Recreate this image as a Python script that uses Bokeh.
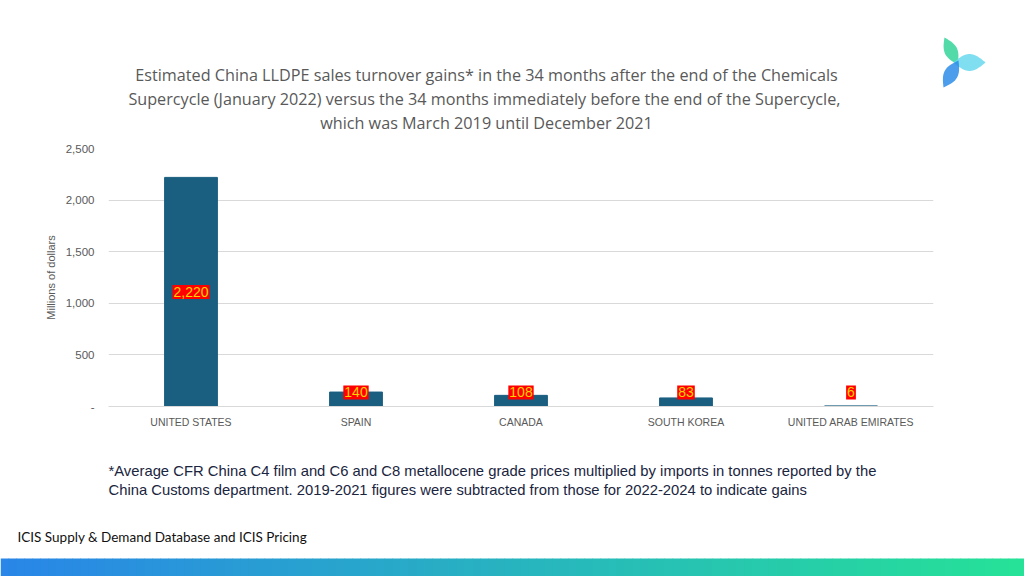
import numpy as np
from bokeh.plotting import figure
from bokeh.layouts import column
from bokeh.models import (ColumnDataSource, NumeralTickFormatter,
                          FixedTicker, Range1d)
from bokeh.core.properties import value
from bokeh.embed import file_html
from bokeh.resources import INLINE

# ---- data ----
categories = ["UNITED STATES", "SPAIN", "CANADA", "SOUTH KOREA", "UNITED ARAB EMIRATES"]
values = [2220, 140, 108, 83, 6]
y_ticks = [0, 500, 1000, 1500, 2000, 2500]

title_lines = [
    "Estimated China LLDPE sales turnover gains* in the 34 months after the end of the Chemicals",
    "Supercycle (January 2022) versus the 34 months immediately before the end of the  Supercycle,",
    "which was March 2019 until December 2021",
]
footnote_lines = [
    "*Average CFR China C4 film and C6 and C8 metallocene grade prices multiplied by imports in tonnes reported by the",
    "China Customs department. 2019-2021 figures were subtracted from those for 2022-2024 to indicate gains",
]
source_text = "ICIS Supply & Demand Database and ICIS Pricing"

# ---- layout constants (canvas px) ----
W, H = 1024, 576
TOP_H = 140          # header strip
MAIN_BOTTOM = 445    # main chart strip ends here
FL, FR, FT, FB = 108, 933, 148, 406
GRAY = "#595959"


def blank(height, y0):
    f = figure(width=W, height=height, x_range=Range1d(0, W),
               y_range=Range1d(y0 + height, y0), x_axis_type=None, y_axis_type=None,
               output_backend="svg", toolbar_location=None, min_border=0,
               frame_align=False)
    f.outline_line_color = None
    f.grid.visible = False
    f.background_fill_color = "white"
    f.border_fill_color = "white"
    return f


# ---------- header ----------
top = blank(TOP_H, 0)
top.text(x=[486] * 3, y=[74, 98, 122], text=title_lines, text_align="center",
         text_baseline="middle", text_font=value("Open Sans"), text_font_size="16.2px",
         text_color=GRAY)


def leaf(a, b, w, m=24):
    a = np.array(a, float)
    b = np.array(b, float)
    d = b - a
    L = np.hypot(*d)
    nrm = np.array([-d[1], d[0]]) / L
    t = np.linspace(0, 1, m)
    off = (w / 2) * np.sin(np.pi * t)
    side1 = a + np.outer(t, d) + np.outer(off, nrm)
    side2 = a + np.outer(t[::-1], d) - np.outer(off[::-1], nrm)
    pts = np.vstack([side1, side2])
    return list(pts[:, 0]), list(pts[:, 1])


lx, ly_, lc = [], [], []
for (a, b, w, col) in [((957, 64), (944, 37), 13, "#34d39a"),
                       ((953, 62), (985, 62), 17, "#6ad8ee"),
                       ((958, 60), (943, 87), 14, "#2d8ce8")]:
    xs, ys = leaf(a, b, w)
    lx.append(xs)
    ly_.append(ys)
    lc.append(col)
top.patches(xs=lx, ys=ly_, fill_color=lc, fill_alpha=0.85, line_color=None)

# ---------- main chart ----------
p = figure(width=W, height=MAIN_BOTTOM - TOP_H, x_range=categories,
           y_range=Range1d(0, 2500), output_backend="svg", toolbar_location=None,
           min_border_left=FL, min_border_right=W - FR,
           min_border_top=FT - TOP_H, min_border_bottom=MAIN_BOTTOM - FB,
           frame_align=False)
p.outline_line_color = None
p.background_fill_color = "white"
p.border_fill_color = "white"

src = ColumnDataSource(dict(
    x=categories, top=values,
    label=[f"{v:,}" for v in values],
    ly=[max(v / 2, 136) for v in values],
))
p.vbar(x="x", top="top", width=0.32, source=src, fill_color="#1a5e80",
       line_color="#1a5e80")

p.text(x="x", y="ly", text="label", source=src, text_align="center",
       text_baseline="middle", text_color="#FFD200",
       text_font_size="14px", text_font=value("Liberation Sans"),
       background_fill_color="#FF0000",
       padding=dict(left=1, right=1, top=2, bottom=2))

p.xgrid.grid_line_color = None
p.ygrid.grid_line_color = "#d9d9d9"
p.ygrid.ticker = FixedTicker(ticks=y_ticks)
p.yaxis.ticker = FixedTicker(ticks=y_ticks)
p.yaxis.formatter = NumeralTickFormatter(format="0,0")
p.yaxis.major_label_overrides = {0: "-"}
p.yaxis.axis_line_color = None
p.yaxis.major_tick_line_color = None
p.yaxis.minor_tick_line_color = None
p.yaxis.major_label_text_color = GRAY
p.yaxis.major_label_text_font = "Liberation Sans"
p.yaxis.major_label_text_font_size = "11.5px"
p.yaxis.major_label_standoff = 8
p.yaxis.axis_label = "Millions of dollars"
p.yaxis.axis_label_text_font_style = "normal"
p.yaxis.axis_label_text_font = "Liberation Sans"
p.yaxis.axis_label_text_font_size = "11px"
p.yaxis.axis_label_text_color = GRAY
p.yaxis.axis_label_standoff = 6

p.xaxis.axis_line_color = "#d9d9d9"
p.xaxis.major_tick_line_color = None
p.xaxis.minor_tick_line_color = None
p.xaxis.major_label_text_color = GRAY
p.xaxis.major_label_text_font = "Liberation Sans"
p.xaxis.major_label_text_font_size = "10.5px"
p.xaxis.major_label_standoff = 3

# ---------- footer ----------
bot = blank(H - MAIN_BOTTOM, MAIN_BOTTOM)
bot.text(x=[108, 108], y=[470, 489], text=footnote_lines, text_align="left",
         text_baseline="middle", text_font=value("Liberation Sans"),
         text_font_size="14.8px", text_color="#1a2540")
bot.text(x=[17], y=[536], text=[source_text], text_align="left", text_baseline="middle",
         text_font=value("Lato"), text_font_size="13.5px", text_color="#111111")

n = 128
c0 = np.array([42, 134, 232])
c1 = np.array([38, 226, 152])
fr = np.linspace(0, 1, n)
cols = ["#%02x%02x%02x" % tuple((c0 + (c1 - c0) * f).astype(int)) for f in fr]
left = [W * k / n for k in range(n)]
right = [W * (k + 1) / n + 0.6 for k in range(n)]
bot.quad(left=left, right=right, top=[558] * n, bottom=[576] * n,
         fill_color=cols, line_color=None)

layout = column(top, p, bot, spacing=0)
open("out.html", "w").write(file_html(layout, INLINE))
